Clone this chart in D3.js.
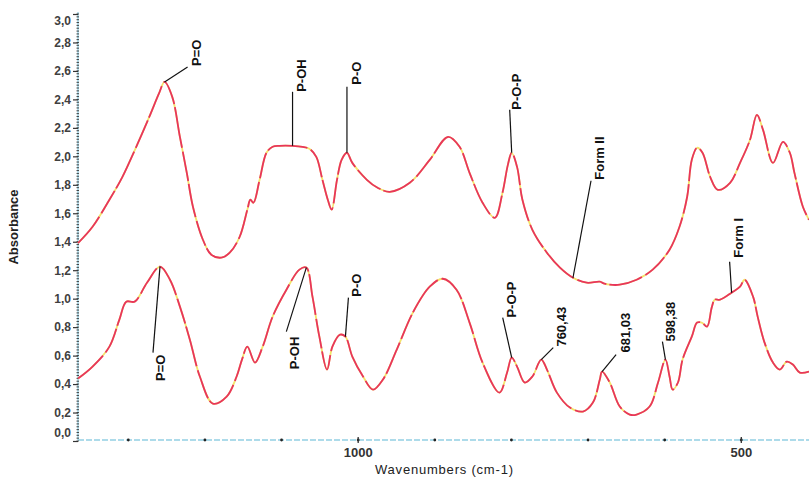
<!DOCTYPE html>
<html>
<head>
<meta charset="utf-8">
<script src="https://cdn.jsdelivr.net/npm/d3@7/dist/d3.min.js"></script>
<style>
  html, body { margin: 0; padding: 0; background: #fff; }
  svg { display: block; }
  text { font-family: "Liberation Sans", Arial, sans-serif; }
</style>
</head>
<body>
<svg id="chart" width="809" height="480"></svg>
<script>
// FTIR spectra of the two crystal forms: [wavenumber cm-1, absorbance]
const formII = [
  [1365,1.39],[1346,1.505],[1324,1.695],[1307,1.856],[1289,2.067],[1272,2.277],[1259,2.446],
  [1252,2.523],[1242,2.418],[1232,2.137],[1223,1.884],[1215,1.646],[1202,1.414],[1191,1.309],
  [1178,1.288],[1167,1.323],[1154,1.435],[1144,1.625],[1140,1.695],[1136,1.674],[1128,1.835],
  [1119,2.025],[1111,2.067],[1102,2.074],[1085,2.074],[1072,2.067],[1063,2.053],[1054,1.996],
  [1046,1.835],[1039,1.695],[1034,1.625],[1027,1.835],[1021,1.975],[1014,2.025],[1007,1.954],
  [988,1.835],[974,1.779],[958,1.751],[932,1.814],[906,1.975],[882,2.137],[867,2.067],
  [854,1.884],[837,1.674],[821,1.568],[811,1.744],[804,1.94],[799,2.025],[792,1.926],
  [785,1.695],[772,1.484],[753,1.323],[736,1.218],[719,1.147],[701,1.112],[684,1.119],
  [678,1.105],[671,1.098],[658,1.098],[636,1.133],[615,1.204],[593,1.344],[580,1.505],
  [570,1.716],[564,1.975],[557,2.06],[550,2.025],[540,1.856],[530,1.765],[514,1.814],
  [501,1.954],[488,2.116],[479,2.291],[471,2.186],[458,1.954],[445,2.102],[436,2.025],
  [430,1.884],[419,1.646],[411,1.554]
];
const formI = [
  [1365,0.439],[1346,0.523],[1324,0.663],[1311,0.853],[1302,0.979],[1291,0.979],[1275,1.112],
  [1258,1.225],[1245,1.133],[1232,0.944],[1219,0.712],[1206,0.453],[1189,0.263],[1171,0.312],
  [1158,0.453],[1151,0.572],[1144,0.663],[1134,0.551],[1124,0.663],[1111,0.874],[1093,1.063],
  [1076,1.204],[1067,1.218],[1059,1.014],[1050,0.733],[1040,0.502],[1033,0.663],[1023,0.747],
  [1016,0.733],[1007,0.593],[993,0.453],[980,0.361],[967,0.432],[949,0.642],[928,0.902],
  [906,1.084],[889,1.14],[871,1.063],[854,0.832],[837,0.551],[815,0.34],[805,0.481],
  [799,0.586],[792,0.523],[782,0.411],[772,0.453],[760.43,0.572],[753,0.502],[740,0.34],
  [723,0.235],[706,0.207],[693,0.27],[684,0.432],[681.03,0.488],[671,0.411],[658,0.242],
  [645,0.186],[636,0.186],[619,0.242],[608,0.411],[598.38,0.572],[593,0.453],[589,0.361],
  [582,0.411],[576,0.572],[564,0.733],[557,0.832],[551,0.832],[544,0.804],[538,0.937],
  [534,0.993],[527,0.993],[512,1.042],[501,1.084],[495,1.133],[484,1.014],[478,0.874],
  [469,0.691],[458,0.551],[449,0.502],[440,0.558],[432,0.537],[423,0.481],[411,0.488]
];

// Band assignments: label text and the spectrum point it marks
const bandLabels = ["P=O","P-OH","P-O","P-O-P","Form II","P=O","P-OH","P-O","P-O-P","760,43","681,03","598,38","Form I"];
const bandWn     = [1252,1085,1014,799,719,1258,1067,1016,799,760.43,681.03,598.38,512];
const bandAbs    = [2.523,2.074,2.025,2.025,1.147,1.225,1.218,0.733,0.586,0.572,0.488,0.572,1.042];

const xMajorTicks = [1300,1200,1100,1000,900,800,700,600,500];
const xTickLabels = [1000,500];
const yTicks = d3.range(0, 3.0001, 0.2);

const svg = d3.select("#chart");
const x = d3.scaleLinear().domain([1365, 411]).range([78, 809]);
const y = d3.scaleLinear().domain([0, 3]).range([441, 14]);

// --- axes ---
const axisBlue = "#93cfe4";
svg.append("line").attr("x1", 78).attr("x2", 809).attr("y1", 440).attr("y2", 440)
  .attr("stroke", axisBlue).attr("stroke-width", 1.3).attr("stroke-dasharray", "6 2");
svg.append("line").attr("x1", 78).attr("x2", 78).attr("y1", 12).attr("y2", 440)
  .attr("stroke", axisBlue).attr("stroke-width", 1.3);

// y minor ticks
svg.append("g").selectAll("line").data(d3.range(0, 3.0001, 0.02)).join("line")
  .attr("x1", 76.5).attr("x2", 79).attr("y1", d => y(d)).attr("y2", d => y(d))
  .attr("stroke", "#333").attr("stroke-width", 0.9);

const yAxis = d3.axisLeft(y).tickValues(yTicks).tickSize(5).tickPadding(2)
  .tickFormat(d => d3.format(".1f")(d).replace(".", ","));
const gy = svg.append("g").attr("transform", "translate(78,0)").call(yAxis);
gy.select(".domain").remove();
gy.selectAll(".tick line").attr("stroke", "#333").attr("stroke-width", 1.2);
gy.selectAll(".tick text").attr("font-size", 12).attr("font-weight", "bold").attr("fill", "#404040");
gy.selectAll(".tick text").filter(d => Math.abs(d - 3) < 1e-6).attr("dy", "0.85em");
gy.selectAll(".tick text").filter(d => Math.abs(d) < 1e-6).attr("dy", "-0.35em");

const xAxis = d3.axisBottom(x).tickValues(xMajorTicks).tickSize(0).tickPadding(8)
  .tickFormat(d => xTickLabels.includes(d) ? d : "");
const gx = svg.append("g").attr("transform", "translate(0,440)").call(xAxis);
gx.select(".domain").remove();
gx.selectAll(".tick text").attr("font-size", 13).attr("font-weight", "bold").attr("fill", "#333");
gx.selectAll(".tick").append("circle").attr("r", 1.4).attr("fill", "#222");
gx.selectAll(".tick").filter(d => xTickLabels.includes(d)).append("line")
  .attr("y1", -3).attr("y2", 3).attr("stroke", "#333").attr("stroke-width", 1.3);

svg.append("text").attr("x", 444).attr("y", 474).attr("text-anchor", "middle")
  .attr("font-size", 13).attr("fill", "#222").attr("textLength", 138)
  .text("Wavenumbers (cm-1)");
svg.append("text").attr("transform", "translate(18,227) rotate(-90)")
  .attr("text-anchor", "middle").attr("font-size", 13).attr("font-weight", "bold")
  .attr("fill", "#222").text("Absorbance");

// --- spectra ---
const line = d3.line().x(d => x(d[0])).y(d => y(d[1])).curve(d3.curveCatmullRom.alpha(0.5));
[formII, formI].forEach(series => {
  svg.append("path").datum(series).attr("d", line).attr("fill", "none")
    .attr("stroke", "#f3e36a").attr("stroke-width", 1.8);
  svg.append("path").datum(series).attr("d", line).attr("fill", "none")
    .attr("stroke", "#e8355c").attr("stroke-width", 1.8)
    .attr("stroke-dasharray", "34 4 26 3 41 4 30 3");
});

// --- band annotations: leader line offset and text placement relative to the line end ---
const leader = [
  {dx: 23, dy: -15, tx: 9, ty: -1, up: true},
  {dx: 0, dy: -54, tx: 9, ty: 0, up: true},
  {dx: 0, dy: -66, tx: 9, ty: -2, up: true},
  {dx: -2, dy: -43, tx: 7, ty: 0, up: true},
  {dx: 18, dy: -97, tx: 8, ty: -1, up: true},
  {dx: -7, dy: 86, tx: 7, ty: 2, up: false},
  {dx: -20, dy: 64, tx: 8, ty: 5, up: false},
  {dx: 3, dy: -39, tx: 8, ty: -1, up: true},
  {dx: -9, dy: -40, tx: 9, ty: 0, up: true},
  {dx: 12, dy: -12, tx: 8, ty: -1, up: true},
  {dx: 14, dy: -17, tx: 9, ty: -2, up: true},
  {dx: -3, dy: -18, tx: 8, ty: 0, up: true},
  {dx: -2, dy: -31, tx: 9, ty: -4, up: true}
];
const ann = svg.append("g");
bandLabels.forEach((label, i) => {
  const px = x(bandWn[i]), py = y(bandAbs[i]);
  const L = leader[i];
  const ex = px + L.dx, ey = py + L.dy;
  ann.append("line").attr("x1", px).attr("y1", py).attr("x2", ex).attr("y2", ey)
    .attr("stroke", "#111").attr("stroke-width", 1.2);
  ann.append("text")
    .attr("transform", `translate(${ex + L.tx},${ey + L.ty}) rotate(-90)`)
    .attr("text-anchor", L.up ? "start" : "end")
    .attr("dy", "0.35em")
    .attr("font-size", 13).attr("font-weight", "bold").attr("fill", "#111")
    .text(label);
});
</script>
</body>
</html>
